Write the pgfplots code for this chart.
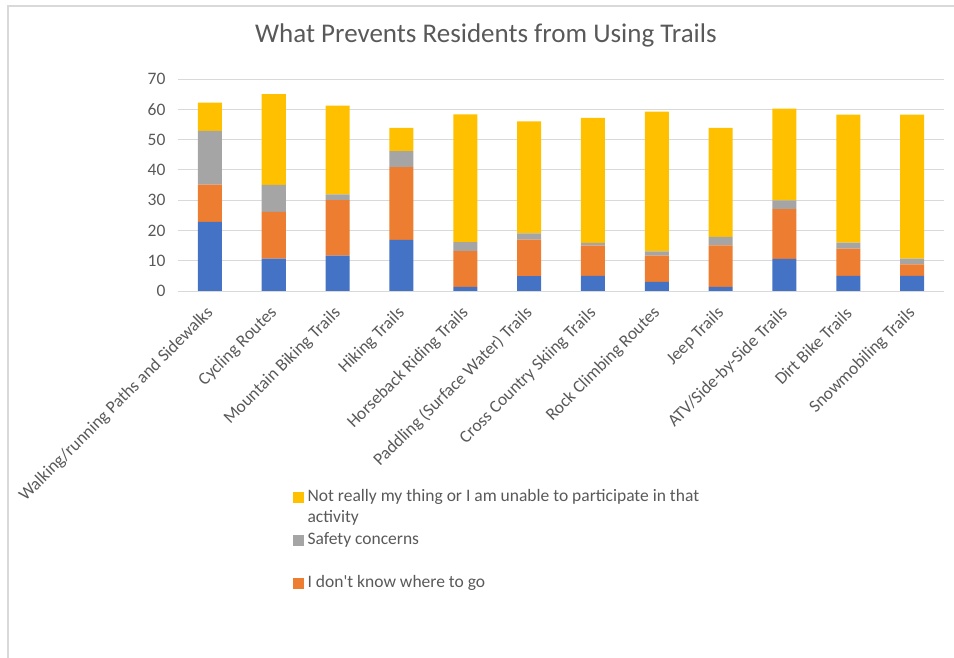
\documentclass[border=0pt]{standalone}
\usepackage{fontspec}
\setmainfont{Carlito}
\usepackage{pgfplots}
\pgfplotsset{compat=1.18}
\definecolor{cblue}{HTML}{4472C4}
\definecolor{corange}{HTML}{ED7D31}
\definecolor{cgray}{HTML}{A5A5A5}
\definecolor{cyellow}{HTML}{FFC000}
\definecolor{ctext}{HTML}{595959}
\definecolor{cgrid}{HTML}{D9D9D9}
\begin{document}
\begin{tikzpicture}[x=1pt,y=1pt]
\path[use as bounding box] (0,0) rectangle (954,658);
\draw[color=cgrid, line width=1.2pt] (8,0) -- (8,652) -- (954,652);
\begin{axis}[
  at={(178pt,367pt)}, anchor=south west,
  scale only axis, width=766pt, height=212pt,
  stack plots=y,
  xmin=-0.5, xmax=11.5, ymin=0, ymax=70,
  xtick={0,1,2,3,4,5,6,7,8,9,10,11},
  xticklabels={Walking/running Paths and Sidewalks, Cycling Routes, Mountain Biking Trails, Hiking Trails, Horseback Riding Trails, Paddling (Surface Water) Trails, Cross Country Skiing Trails, Rock Climbing Routes, Jeep Trails, ATV/Side-by-Side Trails, Dirt Bike Trails, Snowmobiling Trails},
  ytick={0,10,...,70},
  ymajorgrids, grid style={color=cgrid, line width=0.9pt},
  axis line style={draw=none}, major tick length=0pt,
  ticklabel style={font=\fontsize{17.5}{21}\selectfont, text=ctext},
  /pgf/number format/assume math mode=true,
  xticklabel style={xshift=3pt, yshift=-17pt, rotate=45, anchor=east},
  yticklabel style={xshift=-9pt},
  title={What Prevents Residents from Using Trails},
  title style={at={(0.402,1)}, anchor=base, yshift=30pt, font=\fontsize{27}{32}\selectfont, text=ctext},
  legend style={at={(0.1501,-0.930)}, anchor=north west, draw=none, fill=none, inner sep=0pt,
    font=\fontsize{17.5}{21}\selectfont, text=ctext, row sep=4.1pt, column sep=4pt,
    nodes={inner sep=0pt, text height=13pt, text depth=4.5pt}},
  legend cell align=left,
]
\addplot[ybar, bar width=24pt, fill=cblue, draw=none, forget plot] coordinates {
  (0,22.8) (1,10.7) (2,11.7) (3,16.9) (4,1.4) (5,4.9) (6,5.0) (7,3.0) (8,1.4) (9,10.6) (10,5.0) (11,5.0)};
\addplot[ybar, bar width=24pt, fill=corange, draw=none, forget plot] coordinates {
  (0,12.3) (1,15.4) (2,18.3) (3,24.0) (4,11.8) (5,12.1) (6,10.0) (7,8.7) (8,13.7) (9,16.4) (10,9.0) (11,3.8)};
\addplot[ybar, bar width=24pt, fill=cgray, draw=none, forget plot] coordinates {
  (0,17.8) (1,8.9) (2,1.9) (3,5.3) (4,2.9) (5,2.0) (6,0.9) (7,1.4) (8,2.8) (9,2.9) (10,2.0) (11,1.9)};
\addplot[ybar, bar width=24pt, fill=cyellow, draw=none, forget plot] coordinates {
  (0,9.3) (1,30.0) (2,29.3) (3,7.7) (4,42.2) (5,37.0) (6,41.3) (7,46.1) (8,36.0) (9,30.3) (10,42.2) (11,47.5)};
\addlegendimage{legend image code/.code={\fill[cyellow] (0pt,-5pt) rectangle (10pt,5pt);}}
\addlegendentry{Not really my thing or I am unable to participate in that}
\addlegendimage{empty legend}
\addlegendentry{activity}
\addlegendimage{legend image code/.code={\fill[cgray] (0pt,-5pt) rectangle (10pt,5pt);}}
\addlegendentry{Safety concerns}
\addlegendimage{empty legend}
\addlegendentry{}
\addlegendimage{legend image code/.code={\fill[corange] (0pt,-5pt) rectangle (10pt,5pt);}}
\addlegendentry{I don\textquotesingle t know where to go}
\end{axis}
\end{tikzpicture}
\end{document}
